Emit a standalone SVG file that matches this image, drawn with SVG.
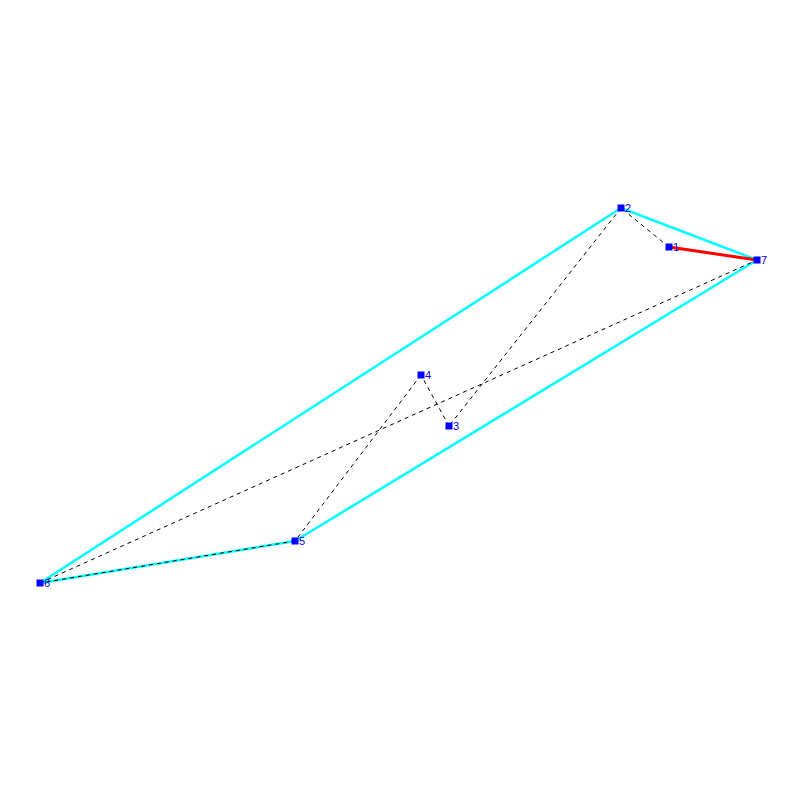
<svg xmlns="http://www.w3.org/2000/svg" width="800" height="800" viewBox="0 0 800 800">
<style>
.hull{stroke:#00ffff;stroke-width:2.5;fill:none}
.path{stroke:#000;stroke-width:1;stroke-dasharray:4,4;fill:none}
.red{stroke:#ff0000;stroke-width:3;fill:none}
.node rect{fill:#0000ff}
.node text{fill:#0000ff;font-family:"Liberation Sans",Arial,sans-serif;font-size:11px}
</style>
<rect width="800" height="800" fill="#fff"/>
<g id="connectors">
<line class="hull" x1="40" y1="583" x2="621" y2="208"/>
<line class="hull" x1="621" y1="208" x2="757" y2="260"/>
<line class="hull" x1="757" y1="260" x2="295" y2="541"/>
<line class="hull" x1="295" y1="541" x2="40" y2="583"/>
<line class="red" x1="669" y1="247" x2="757" y2="260"/>
<line class="path" x1="669" y1="247" x2="621" y2="208"/>
<line class="path" x1="621" y1="208" x2="449" y2="426"/>
<line class="path" x1="449" y1="426" x2="421" y2="375"/>
<line class="path" x1="421" y1="375" x2="295" y2="541"/>
<line class="path" x1="295" y1="541" x2="40" y2="583"/>
<line class="path" x1="40" y1="583" x2="757" y2="260"/>
</g>
<g id="node1" class="node"><rect x="665.5" y="243.5" width="7" height="7"/><text x="673" y="251">1</text></g>
<g id="node2" class="node"><rect x="617.5" y="204.5" width="7" height="7"/><text x="625" y="212">2</text></g>
<g id="node3" class="node"><rect x="445.5" y="422.5" width="7" height="7"/><text x="453" y="430">3</text></g>
<g id="node4" class="node"><rect x="417.5" y="371.5" width="7" height="7"/><text x="425" y="379">4</text></g>
<g id="node5" class="node"><rect x="291.5" y="537.5" width="7" height="7"/><text x="299" y="545">5</text></g>
<g id="node6" class="node"><rect x="36.5" y="579.5" width="7" height="7"/><text x="44" y="587">6</text></g>
<g id="node7" class="node"><rect x="753.5" y="256.5" width="7" height="7"/><text x="761" y="264">7</text></g>
</svg>
